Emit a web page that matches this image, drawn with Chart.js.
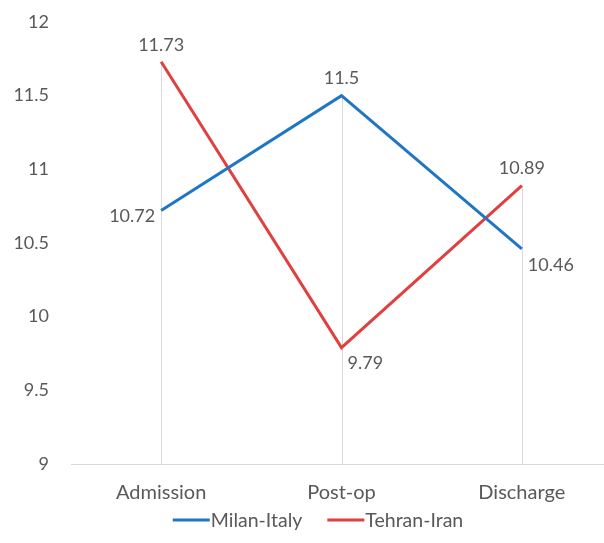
<!DOCTYPE html>
<html lang="en">
<head>
  <meta charset="UTF-8">
  <title>Milan vs Tehran</title>
  <script src="https://cdn.jsdelivr.net/npm/chart.js"></script>
  <style>
    * { margin: 0; padding: 0; box-sizing: border-box; }
    body { background: #fff; overflow: hidden; width: 604px; height: 543px; }
    #wrap { width: 612px; height: 543px; }
  </style>
</head>
<body>
  <div id="wrap"><canvas id="chart" width="612" height="543"></canvas></div>

  <script>
    // data
    const stages = ['Admission', 'Post-op', 'Discharge'];
    const milan  = [10.72, 11.5, 10.46];
    const tehran = [11.73, 9.79, 10.89];
    const yTicks = [9, 9.5, 10, 10.5, 11, 11.5, 12];

    const textColor = '#595959';
    const font = "Lato, 'Open Sans', sans-serif";

    // drop lines: from the highest point of each category down to the axis
    const dropLines = {
      id: 'dropLines',
      beforeDatasetsDraw(chart) {
        const ctx = chart.ctx;
        const y = chart.scales.y;
        ctx.save();
        ctx.strokeStyle = '#D9D9D9';
        ctx.lineWidth = 1;
        chart.data.labels.forEach((_, j) => {
          const top = Math.max(...chart.data.datasets.map(ds => ds.data[j]));
          const x = Math.round(chart.getDatasetMeta(0).data[j].x) + 0.5;
          ctx.beginPath();
          ctx.moveTo(x, y.getPixelForValue(top));
          ctx.lineTo(x, y.getPixelForValue(y.min));
          ctx.stroke();
        });
        ctx.restore();
      }
    };

    // simple value labels next to each point
    const pointLabels = {
      id: 'pointLabels',
      afterDatasetsDraw(chart) {
        const ctx = chart.ctx;
        ctx.save();
        ctx.font = '18px ' + font;
        ctx.fillStyle = textColor;
        ctx.textBaseline = 'middle';
        chart.data.datasets.forEach((ds, i) => {
          chart.getDatasetMeta(i).data.forEach((pt, j) => {
            const txt = String(ds.data[j]);
            const pos = ds.labelPos[j];
            if (pos === 'above') {
              ctx.textAlign = 'center';
              ctx.fillText(txt, pt.x, pt.y - 17);
            } else if (pos === 'left') {
              ctx.textAlign = 'right';
              ctx.fillText(txt, pt.x - 6, pt.y + 6);
            } else {
              ctx.textAlign = 'left';
              ctx.fillText(txt, pt.x + 6, pt.y + 16);
            }
          });
        });
        ctx.restore();
      }
    };

    // legend drawn by hand so the spacing can follow the original
    const lineLegend = {
      id: 'lineLegend',
      afterDraw(chart) {
        const ctx = chart.ctx;
        const sets = chart.data.datasets;
        ctx.save();
        ctx.font = '19.5px ' + font;
        ctx.textBaseline = 'middle';
        ctx.textAlign = 'left';
        const lineW = 37, gap = 1, between = 25;
        const widths = sets.map(ds => lineW + gap + ctx.measureText(ds.label).width);
        const total = widths.reduce((a, b) => a + b, 0) + between * (sets.length - 1);
        let x = chart.width / 2 + 12 - total / 2;
        const y = 520;
        sets.forEach((ds, i) => {
          ctx.strokeStyle = ds.borderColor;
          ctx.lineWidth = 3;
          ctx.beginPath();
          ctx.moveTo(x, y);
          ctx.lineTo(x + lineW, y);
          ctx.stroke();
          ctx.fillStyle = textColor;
          ctx.fillText(ds.label, x + lineW + gap, y + 1);
          x += widths[i] + between;
        });
        ctx.restore();
      }
    };

    new Chart(document.getElementById('chart'), {
      type: 'line',
      data: {
        labels: stages,
        datasets: [
          {
            label: 'Milan-Italy',
            data: milan,
            borderColor: '#1F77C4',
            backgroundColor: '#1F77C4',
            borderWidth: 3,
            pointRadius: 0,
            tension: 0,
            labelPos: ['left', 'above', 'belowRight']
          },
          {
            label: 'Tehran-Iran',
            data: tehran,
            borderColor: '#E0403F',
            backgroundColor: '#E0403F',
            borderWidth: 3,
            pointRadius: 0,
            tension: 0,
            labelPos: ['above', 'belowRight', 'above']
          }
        ]
      },
      options: {
        responsive: false,
        animation: false,
        layout: { padding: { top: 22, bottom: 21 } },
        scales: {
          x: {
            offset: true,
            grid: { display: false, drawTicks: false },
            border: { color: '#D9D9D9' },
            ticks: { color: textColor, font: { family: font, size: 20 }, padding: 17 }
          },
          y: {
            min: 9,
            max: 12,
            afterBuildTicks: s => { s.ticks = yTicks.map(v => ({ value: v })); },
            afterFit: s => { s.width = 71; s.paddingTop = 0; s.paddingBottom = 0; },
            grid: { display: false },
            border: { display: false },
            ticks: {
              color: textColor,
              font: { family: font, size: 18 },
              padding: 14,
              callback: v => String(v)
            }
          }
        },
        plugins: {
          legend: { display: false },
          tooltip: { enabled: false }
        }
      },
      plugins: [dropLines, pointLabels, lineLegend]
    });
  </script>
</body>
</html>
